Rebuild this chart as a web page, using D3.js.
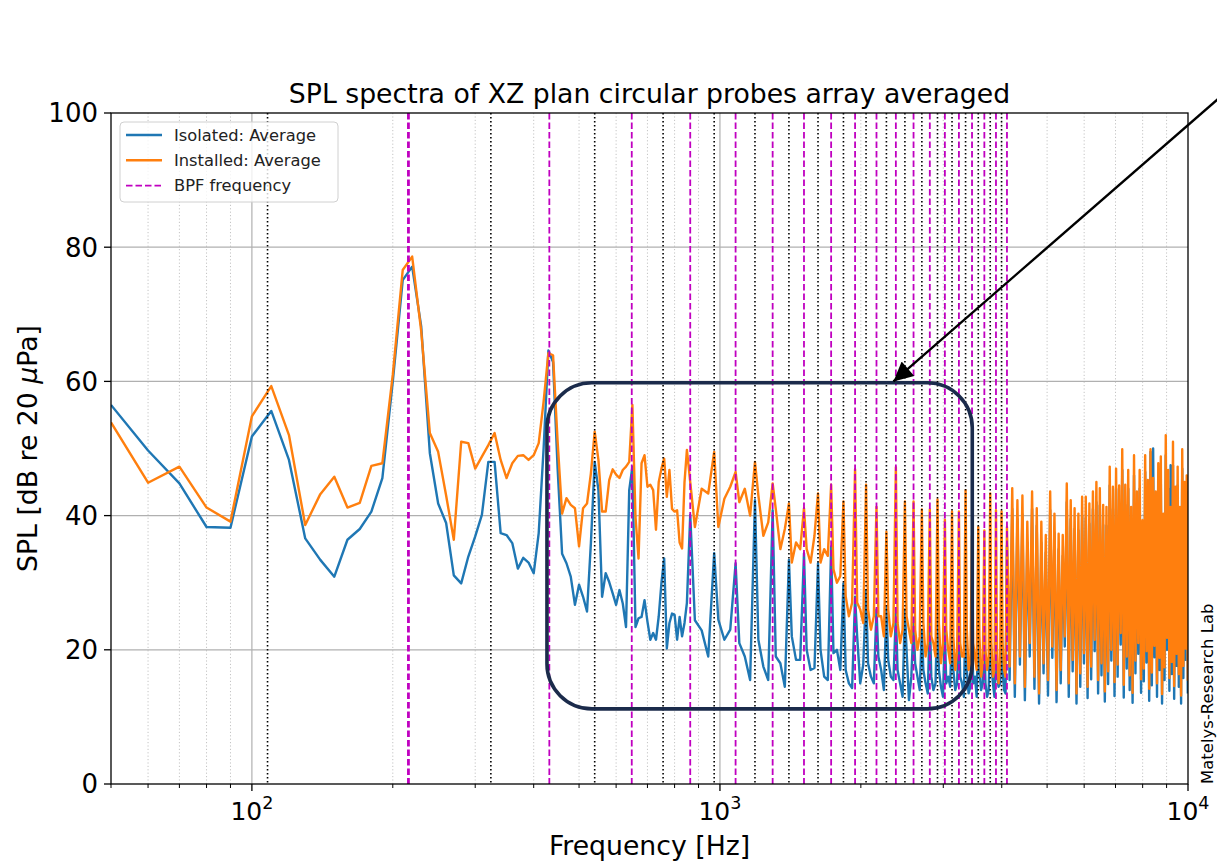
<!DOCTYPE html>
<html>
<head>
<meta charset="utf-8">
<script src="https://cdn.jsdelivr.net/npm/d3@7"></script>
<style>
  body { margin: 0; background: #fff; }
  svg text { font-family: "DejaVu Sans", sans-serif; fill: #000; }
</style>
</head>
<body>
<svg id="chart" width="1217" height="863"></svg>
<script>
// ---- data ----
var bpfHz = 216;                  // blade passing frequency
var halfBpf = bpfHz / 2;          // harmonic spacing of the black dotted lines

// 10 Hz bins, 50 .. 850 Hz
var binFreq = d3.range(50, 860, 10);
var isoLow = [56.5, 49.7, 44.8, 38.3, 38.2, 51.8, 55.6, 48.3, 36.6, 33.4,
  30.9, 36.4, 38.0, 40.6, 45.6, 60.0, 75.1, 77.1, 68.2, 49.3,
  41.8, 38.9, 31.1, 29.9, 33.9, 36.9, 40.1, 48.0, 48.0, 37.4,
  37.1, 35.9, 32.1, 33.7, 33.0, 31.4, 37.4, 50.0, 64.6, 62.9,
  47.0, 34.3, 32.9, 30.9, 26.7, 29.7, 27.9, 25.7, 35.9, 48.0,
  43.8, 27.9, 31.4, 30.1, 28.4, 26.7, 28.9, 26.9, 23.4, 43.8,
  47.3, 23.4, 24.7, 24.9, 27.4, 24.2, 21.5, 22.5, 21.5, 25.0,
  30.0, 33.6, 20.2, 24.0, 25.4, 25.2, 21.5, 24.9, 22.0, 24.0, 27.0];
var insLow = [53.9, 44.9, 47.3, 41.2, 39.1, 54.8, 59.3, 52.0, 38.6, 43.2,
  45.8, 41.2, 41.9, 47.4, 47.8, 61.0, 76.6, 78.6, 67.5, 52.3,
  49.5, 43.0, 36.4, 51.0, 50.8, 47.0, 48.8, 50.5, 52.3, 48.3,
  45.6, 47.8, 48.9, 49.0, 48.3, 49.0, 50.8, 57.0, 64.2, 63.9,
  51.0, 40.3, 42.6, 41.6, 41.1, 35.4, 41.1, 41.8, 46.3, 52.5,
  48.3, 40.6, 40.6, 45.3, 46.9, 46.1, 45.6, 46.8, 47.3, 48.0,
  56.5, 39.8, 33.6, 47.8, 49.0, 44.3, 44.6, 43.8, 37.9, 45.0,
  47.0, 48.5, 42.8, 46.8, 41.0, 40.6, 40.8, 36.0, 35.1, 45.0, 49.8];

// harmonic orders n: peak at n*108 Hz, then levels at +20, +50 and +80 Hz
var midOrders = d3.range(8, 38);
var isoMidPeak = [40.1, 34.4, 32.9, 42.3, 40.8, 33.4, 34.4, 32.9, 35.4, 29.9,
  27.9, 28.9, 26.0, 26.4, 25.4, 26.0, 24.0, 23.0, 25.0, 27.0,
  23.0, 24.0, 25.0, 26.0, 23.0, 24.0, 22.0, 25.0, 23.0, 24.0];
var isoMidA = [24.4, 24.5, 21, 21.5, 19, 22, 20, 20, 19.5, 17,
  22, 18, 19, 18.5, 17, 20, 18, 17, 16, 17,
  15, 17, 16, 17, 15, 17, 15, 18, 16, 17];
var isoMidB = [22.9, 21.5, 19, 17.5, 18, 18.5, 17, 16, 20, 15,
  15, 16, 17, 16, 15, 12.5, 16, 15, 14, 14.5,
  16, 14, 15, 13.5, 16, 14, 13, 15, 14.5, 14];
var isoMidC = [19.0, 23.0, 15.5, 15.5, 14.5, 18.5, 17.3, 15.5, 17.0, 14.3,
  17.8, 15.0, 14.0, 15.5, 13.0, 16.0, 14.0, 13.5, 15.0, 13.0,
  14.5, 15.0, 13.0, 14.5, 13.0, 15.0, 14.0, 13.0, 15.0, 13.5];
var insMidPeak = [45.0, 49.5, 46.5, 48.0, 44.8, 41.8, 41.1, 43.3, 44.6, 42.1,
  46.9, 44.6, 41.3, 37.6, 47.2, 42.1, 42.1, 40.9, 40.9, 42.4,
  39.4, 40.6, 40.6, 43.8, 37.0, 38.3, 37.8, 43.3, 40.8, 40.6];
var insMidA = [38.3, 38.3, 42, 43, 41, 33, 35, 33, 32, 28,
  27, 26, 25, 26, 24, 25, 23, 24, 22, 24,
  23, 22, 21, 23, 21, 22, 20, 21, 20, 21];
var insMidB = [44, 42.5, 44, 37, 35, 36, 33, 35, 30, 25,
  26, 23, 25, 22, 21, 23, 20, 19, 21, 18,
  20, 17, 19, 17, 19, 16, 17, 16, 15, 17];
var insMidC = [43.3, 44.3, 40, 39, 38, 35, 37, 34, 31, 27,
  24, 25, 22, 24, 23, 21, 22, 21, 19, 21,
  18, 20, 19, 18, 17, 18, 19, 17, 18, 16];

// dense part above 4.1 kHz: peak at n*108 Hz and dip half way to the next one
var highOrders = d3.range(38, 93);
var isoHighPeak = [35.5, 41.0, 39.5, 40.2, 36.0, 41.0, 38.5, 36.0, 34.5, 40.8,
  37.5, 35.0, 34.0, 42.0, 39.5, 38.0, 37.8, 40.0, 39.6, 38.8,
  41.0, 42.0, 41.5, 38.6, 38.5, 44.5, 41.0, 44.0, 41.5, 46.8,
  41.6, 44.0, 38.5, 46.0, 41.0, 44.0, 37.0, 46.5, 42.0, 49.5,
  50.0, 40.5, 45.0, 45.5, 38.0, 49.0, 44.0, 47.5, 47.5, 41.5,
  44.5, 39.0, 47.0, 42.5, 43.5];
var isoHighDip = [15.5, 13.0, 17.8, 12.5, 19.0, 14.2, 12.0, 16.5, 13.2, 18.8,
  12.2, 15.0, 20.5, 13.0, 16.8, 12.0, 14.5, 18.0, 12.8, 15.6,
  19.8, 13.5, 16.2, 12.3, 14.9, 18.4, 13.1, 16.0, 20.8, 12.9,
  17.2, 14.0, 12.1, 16.5, 19.4, 13.6, 15.3, 18.1, 12.4, 14.7,
  18.9, 13.0, 17.0, 12.0, 15.5, 20.0, 13.9, 16.4, 12.7, 17.6,
  14.5, 12.0, 15.8, 18.5, 13.5];
var insHighPeak = [38.3, 44.1, 42.3, 43.0, 39.1, 43.6, 41.1, 39.1, 37.1, 43.6,
  40.3, 37.3, 37.1, 44.8, 42.3, 41.1, 40.3, 42.8, 42.8, 41.8,
  43.6, 45.0, 44.1, 41.6, 41.3, 47.3, 44.3, 47.0, 44.5, 49.9,
  44.6, 46.8, 41.3, 49.0, 43.6, 46.8, 39.3, 49.0, 45.3, 49.9,
  45.6, 43.6, 47.8, 48.8, 40.3, 52.0, 46.8, 41.3, 51.0, 44.3,
  47.3, 41.3, 49.9, 45.0, 46.0];
var insHighDip = [17.5, 15.0, 19.0, 14.5, 21.0, 16.0, 13.5, 18.0, 15.5, 20.5,
  14.0, 17.0, 22.0, 15.0, 18.5, 13.5, 16.5, 19.5, 14.5, 17.5,
  21.5, 15.5, 18.0, 13.8, 16.8, 20.0, 15.2, 17.8, 22.5, 14.8,
  19.0, 16.2, 13.6, 18.4, 21.0, 15.6, 17.2, 19.8, 14.2, 16.6,
  20.6, 15.0, 18.8, 13.4, 17.4, 21.8, 15.8, 18.2, 14.6, 19.4,
  16.4, 13.2, 17.6, 20.2, 15.4];

// reference lines
var bpfOrders = d3.range(1, 20);          // magenta dashed, m * 216 Hz
var oddOrders = d3.range(1, 38, 2);       // black dotted, odd * 108 Hz
var yTicks = [0, 20, 40, 60, 80, 100];
var xDecades = [{ v: 100, e: "2" }, { v: 1000, e: "3" }, { v: 10000, e: "4" }];

var seriesNames = ["Isolated: Average", "Installed: Average"];
var seriesColors = ["#1f77b4", "#ff7f0e"];
var bpfColor = "#c000c0";

function buildSeries(lowVals, midPeak, midA, midB, midC, highPeak, highDip) {
  var pts = binFreq.map(function (f, i) { return [f, lowVals[i]]; });
  midOrders.forEach(function (n, i) {
    var f0 = n * halfBpf;
    pts.push([f0, midPeak[i]], [f0 + 20, midA[i]], [f0 + 50, midB[i]], [f0 + 80, midC[i]]);
  });
  highOrders.forEach(function (n, i) {
    var f0 = n * halfBpf;
    pts.push([f0, highPeak[i]], [f0 + 54, highDip[i]]);
  });
  return pts;
}

var series = [
  buildSeries(isoLow, isoMidPeak, isoMidA, isoMidB, isoMidC, isoHighPeak, isoHighDip),
  buildSeries(insLow, insMidPeak, insMidA, insMidB, insMidC, insHighPeak, insHighDip)
];

// ---- layout ----
var plot = { left: 111, right: 1188, top: 113, bottom: 784 };
var svg = d3.select("#chart");

var x = d3.scaleLog().domain([50, 10000]).range([plot.left, plot.right]);
var y = d3.scaleLinear().domain([0, 100]).range([plot.bottom, plot.top]);

var defs = svg.append("defs");
defs.append("clipPath").attr("id", "clip")
  .append("rect")
  .attr("x", plot.left).attr("y", plot.top)
  .attr("width", plot.right - plot.left).attr("height", plot.bottom - plot.top);

var minorX = x.ticks().filter(function (t) {
  var l = Math.log10(t);
  return Math.abs(l - Math.round(l)) > 1e-6 && t > 50;
});

// grid
var grid = svg.append("g");
grid.selectAll("line.minor").data(minorX).enter().append("line")
  .attr("x1", function (d) { return x(d); }).attr("x2", function (d) { return x(d); })
  .attr("y1", plot.top).attr("y2", plot.bottom)
  .attr("stroke", "#c4c4c4").attr("stroke-width", 1).attr("stroke-dasharray", "1.2,2.2");
grid.selectAll("line.majx").data([100, 1000]).enter().append("line")
  .attr("x1", function (d) { return x(d); }).attr("x2", function (d) { return x(d); })
  .attr("y1", plot.top).attr("y2", plot.bottom)
  .attr("stroke", "#b0b0b0").attr("stroke-width", 1.2);
grid.selectAll("line.majy").data([20, 40, 60, 80]).enter().append("line")
  .attr("x1", plot.left).attr("x2", plot.right)
  .attr("y1", function (d) { return y(d); }).attr("y2", function (d) { return y(d); })
  .attr("stroke", "#b0b0b0").attr("stroke-width", 1.2);

// spectra
var line = d3.line().x(function (d) { return x(d[0]); }).y(function (d) { return y(d[1]); });
svg.append("g").attr("clip-path", "url(#clip)")
  .selectAll("path").data(series).enter().append("path")
  .attr("d", line)
  .attr("fill", "none")
  .attr("stroke", function (d, i) { return seriesColors[i]; })
  .attr("stroke-width", 2.4)
  .attr("stroke-linejoin", "round");

// harmonic markers
var marks = svg.append("g").attr("clip-path", "url(#clip)");
marks.selectAll("line.odd").data(oddOrders).enter().append("line")
  .attr("x1", function (d) { return x(d * halfBpf); }).attr("x2", function (d) { return x(d * halfBpf); })
  .attr("y1", plot.top).attr("y2", plot.bottom)
  .attr("stroke", "#000").attr("stroke-width", 1.6).attr("stroke-dasharray", "1.6,2.4");
marks.selectAll("line.bpf").data(bpfOrders).enter().append("line")
  .attr("x1", function (d) { return x(d * bpfHz); }).attr("x2", function (d) { return x(d * bpfHz); })
  .attr("y1", plot.top).attr("y2", plot.bottom)
  .attr("stroke", bpfColor)
  .attr("stroke-width", function (d) { return d === 1 ? 2.8 : 1.8; })
  .attr("stroke-dasharray", "6.5,3");

// spines
svg.append("rect")
  .attr("x", plot.left).attr("y", plot.top)
  .attr("width", plot.right - plot.left).attr("height", plot.bottom - plot.top)
  .attr("fill", "none").attr("stroke", "#000").attr("stroke-width", 1.3);

// y ticks
var yAx = svg.append("g");
yAx.selectAll("line").data(yTicks).enter().append("line")
  .attr("x1", plot.left - 7).attr("x2", plot.left)
  .attr("y1", function (d) { return y(d); }).attr("y2", function (d) { return y(d); })
  .attr("stroke", "#000").attr("stroke-width", 1.3);
yAx.selectAll("text").data(yTicks).enter().append("text")
  .attr("x", plot.left - 13).attr("y", function (d) { return y(d); })
  .attr("dy", "0.36em").attr("text-anchor", "end")
  .style("font-size", "26px")
  .text(function (d) { return d; });

// x ticks
var xAx = svg.append("g");
xAx.selectAll("line.min").data([50].concat(minorX)).enter().append("line")
  .attr("x1", function (d) { return x(d); }).attr("x2", function (d) { return x(d); })
  .attr("y1", plot.bottom).attr("y2", plot.bottom + 4)
  .attr("stroke", "#000").attr("stroke-width", 1);
xAx.selectAll("line.maj").data(xDecades).enter().append("line")
  .attr("x1", function (d) { return x(d.v); }).attr("x2", function (d) { return x(d.v); })
  .attr("y1", plot.bottom).attr("y2", plot.bottom + 7)
  .attr("stroke", "#000").attr("stroke-width", 1.3);
var xl = xAx.selectAll("text").data(xDecades).enter().append("text")
  .attr("x", function (d) { return x(d.v); }).attr("y", 820)
  .attr("text-anchor", "middle");
xl.append("tspan").style("font-size", "25px").text("10");
xl.append("tspan").style("font-size", "17.5px").attr("dy", "-11")
  .text(function (d) { return d.e; });

// titles
svg.append("text").attr("x", (plot.left + plot.right) / 2).attr("y", 103)
  .attr("text-anchor", "middle").style("font-size", "26.7px")
  .text("SPL spectra of XZ plan circular probes array averaged");
svg.append("text").attr("x", (plot.left + plot.right) / 2).attr("y", 855)
  .attr("text-anchor", "middle").style("font-size", "26.7px")
  .text("Frequency [Hz]");
var yl = svg.append("text")
  .attr("transform", "translate(37," + ((plot.top + plot.bottom) / 2) + ") rotate(-90)")
  .attr("text-anchor", "middle").style("font-size", "26.7px");
yl.append("tspan").text("SPL [dB re 20 ");
yl.append("tspan").style("font-style", "italic").text("\u03bc");
yl.append("tspan").text("Pa]");

// watermark
svg.append("text")
  .attr("transform", "translate(1213,784) rotate(-90)")
  .style("font-size", "16.5px")
  .text("Matelys-Research Lab");

// highlight box + arrow
var boxF = [427, 3460], boxV = [11.2, 59.8];
svg.append("rect")
  .attr("x", x(boxF[0])).attr("y", y(boxV[1]))
  .attr("width", x(boxF[1]) - x(boxF[0])).attr("height", y(boxV[0]) - y(boxV[1]))
  .attr("rx", 45).attr("ry", 45)
  .attr("fill", "none").attr("stroke", "#1b2b4b").attr("stroke-width", 3.6);

defs.append("marker")
  .attr("id", "head").attr("viewBox", "0 0 10 10")
  .attr("refX", 10).attr("refY", 5)
  .attr("markerWidth", 9).attr("markerHeight", 8)
  .attr("markerUnits", "strokeWidth")
  .attr("orient", "auto")
  .append("path").attr("d", "M0,0L10,5L0,10Z").attr("fill", "#000");
svg.append("line")
  .attr("x1", 1218).attr("y1", 99)
  .attr("x2", x(2348)).attr("y2", y(60))
  .attr("stroke", "#000").attr("stroke-width", 2.4)
  .attr("marker-end", "url(#head)");

// legend
var lg = svg.append("g").attr("transform", "translate(120,122)");
lg.append("rect").attr("width", 218).attr("height", 80).attr("rx", 4)
  .attr("fill", "#fff").attr("fill-opacity", 0.8)
  .attr("stroke", "#d0d0d0").attr("stroke-width", 1);
var legendItems = [
  { label: seriesNames[0], color: seriesColors[0], dash: null },
  { label: seriesNames[1], color: seriesColors[1], dash: null },
  { label: "BPF frequency", color: bpfColor, dash: "6.5,3" }
];
var li = lg.selectAll("g.item").data(legendItems).enter().append("g")
  .attr("transform", function (d, i) { return "translate(0," + (13 + i * 25.3) + ")"; });
li.append("line").attr("x1", 6).attr("x2", 42)
  .attr("stroke", function (d) { return d.color; })
  .attr("stroke-width", function (d) { return d.dash ? 1.8 : 2.4; })
  .attr("stroke-dasharray", function (d) { return d.dash; });
li.append("text").attr("x", 54).attr("dy", "0.36em")
  .style("font-size", "16.3px").style("fill", "#222")
  .text(function (d) { return d.label; });
</script>
</body>
</html>
